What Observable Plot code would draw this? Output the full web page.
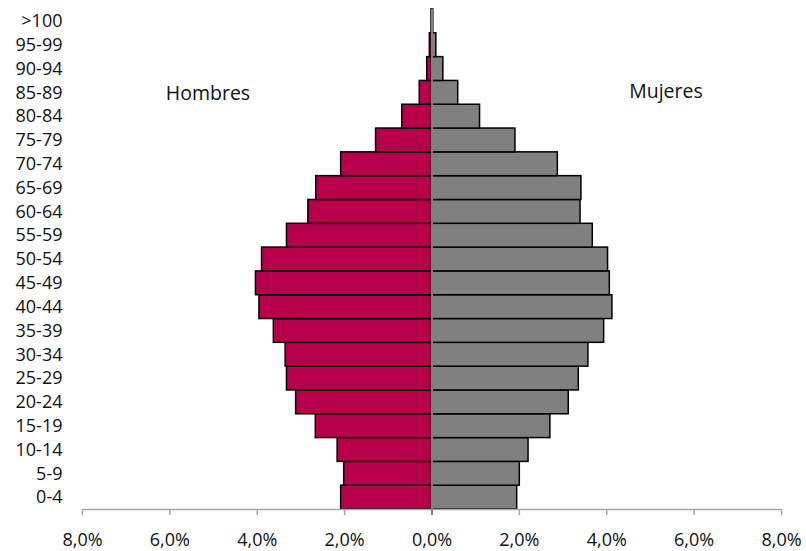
<!DOCTYPE html>
<html>
<head>
<meta charset="utf-8">
<script src="https://cdn.jsdelivr.net/npm/d3@7"></script>
<script src="https://cdn.jsdelivr.net/npm/@observablehq/plot@0.6"></script>
<style>
  html, body { margin: 0; padding: 0; background: #fff; }
  #chart { width: 806px; height: 551px; }
</style>
</head>
<body>
<div id="chart"></div>
<script>
// Age groups, bottom to top
const ages = ["0-4","5-9","10-14","15-19","20-24","25-29","30-34","35-39","40-44","45-49","50-54","55-59","60-64","65-69","70-74","75-79","80-84","85-89","90-94","95-99",">100"];
// Percent of total population
const hombres = [2.08, 2.01, 2.16, 2.66, 3.11, 3.32, 3.35, 3.62, 3.95, 4.03, 3.89, 3.32, 2.83, 2.65, 2.08, 1.28, 0.68, 0.28, 0.11, 0.05, 0.01];
const mujeres = [1.95, 2.01, 2.21, 2.71, 3.13, 3.36, 3.58, 3.94, 4.13, 4.07, 4.03, 3.68, 3.40, 3.42, 2.88, 1.91, 1.10, 0.60, 0.26, 0.10, 0.03];
const xTicks = [-8, -6, -4, -2, 0, 2, 4, 6, 8];
const seriesLabels = ["Hombres", "Mujeres"];

const rows = ages.map((a, i) => ({age: a, m: hombres[i], f: mujeres[i]}));
const font = "'Open Sans', 'Noto Sans', sans-serif";
const fmt = d => Math.abs(d).toFixed(1).replace(".", ",") + "%";

const chart = Plot.plot({
  width: 806,
  height: 551,
  marginLeft: 82,
  marginRight: 25,
  marginTop: 9,
  marginBottom: 42,
  style: {fontFamily: font, fontSize: "18px", color: "#111", background: "#fff", overflow: "visible"},
  x: {domain: [-8, 8], ticks: xTicks, tickFormat: fmt},
  y: {domain: ages.slice().reverse(), padding: 0, round: false},
  marks: [
    Plot.barX(rows, {y: "age", x1: 0, x2: d => -d.m, fill: "#B7004B", stroke: "#000", strokeWidth: 1.5}),
    Plot.barX(rows, {y: "age", x1: 0, x2: "f", fill: "#808080", stroke: "#000", strokeWidth: 1.5}),
    Plot.frame({anchor: "bottom", stroke: "#A6A6A6", strokeWidth: 1.5}),
    Plot.axisX({ticks: xTicks, tickSize: 6, tickPadding: 18, stroke: "#A6A6A6", strokeWidth: 1.5, label: null,
      tickFormat: fmt, fill: "#111"}),
    Plot.axisY({tickSize: 0, tickPadding: 20, label: null, fill: "#111"}),
    Plot.ruleX([0], {stroke: "#7F7F7F", strokeWidth: 2, insetBottom: -6}),
    Plot.text([seriesLabels[0]], {frameAnchor: "top", text: d => d, dx: -224, dy: 90, lineAnchor: "bottom", fontSize: 19.5, fill: "#111"}),
    Plot.text([seriesLabels[1]], {frameAnchor: "top", text: d => d, dx: 234, dy: 88, lineAnchor: "bottom", fontSize: 19.5, fill: "#111"})
  ]
});
document.getElementById("chart").appendChild(chart);
</script>
</body>
</html>
